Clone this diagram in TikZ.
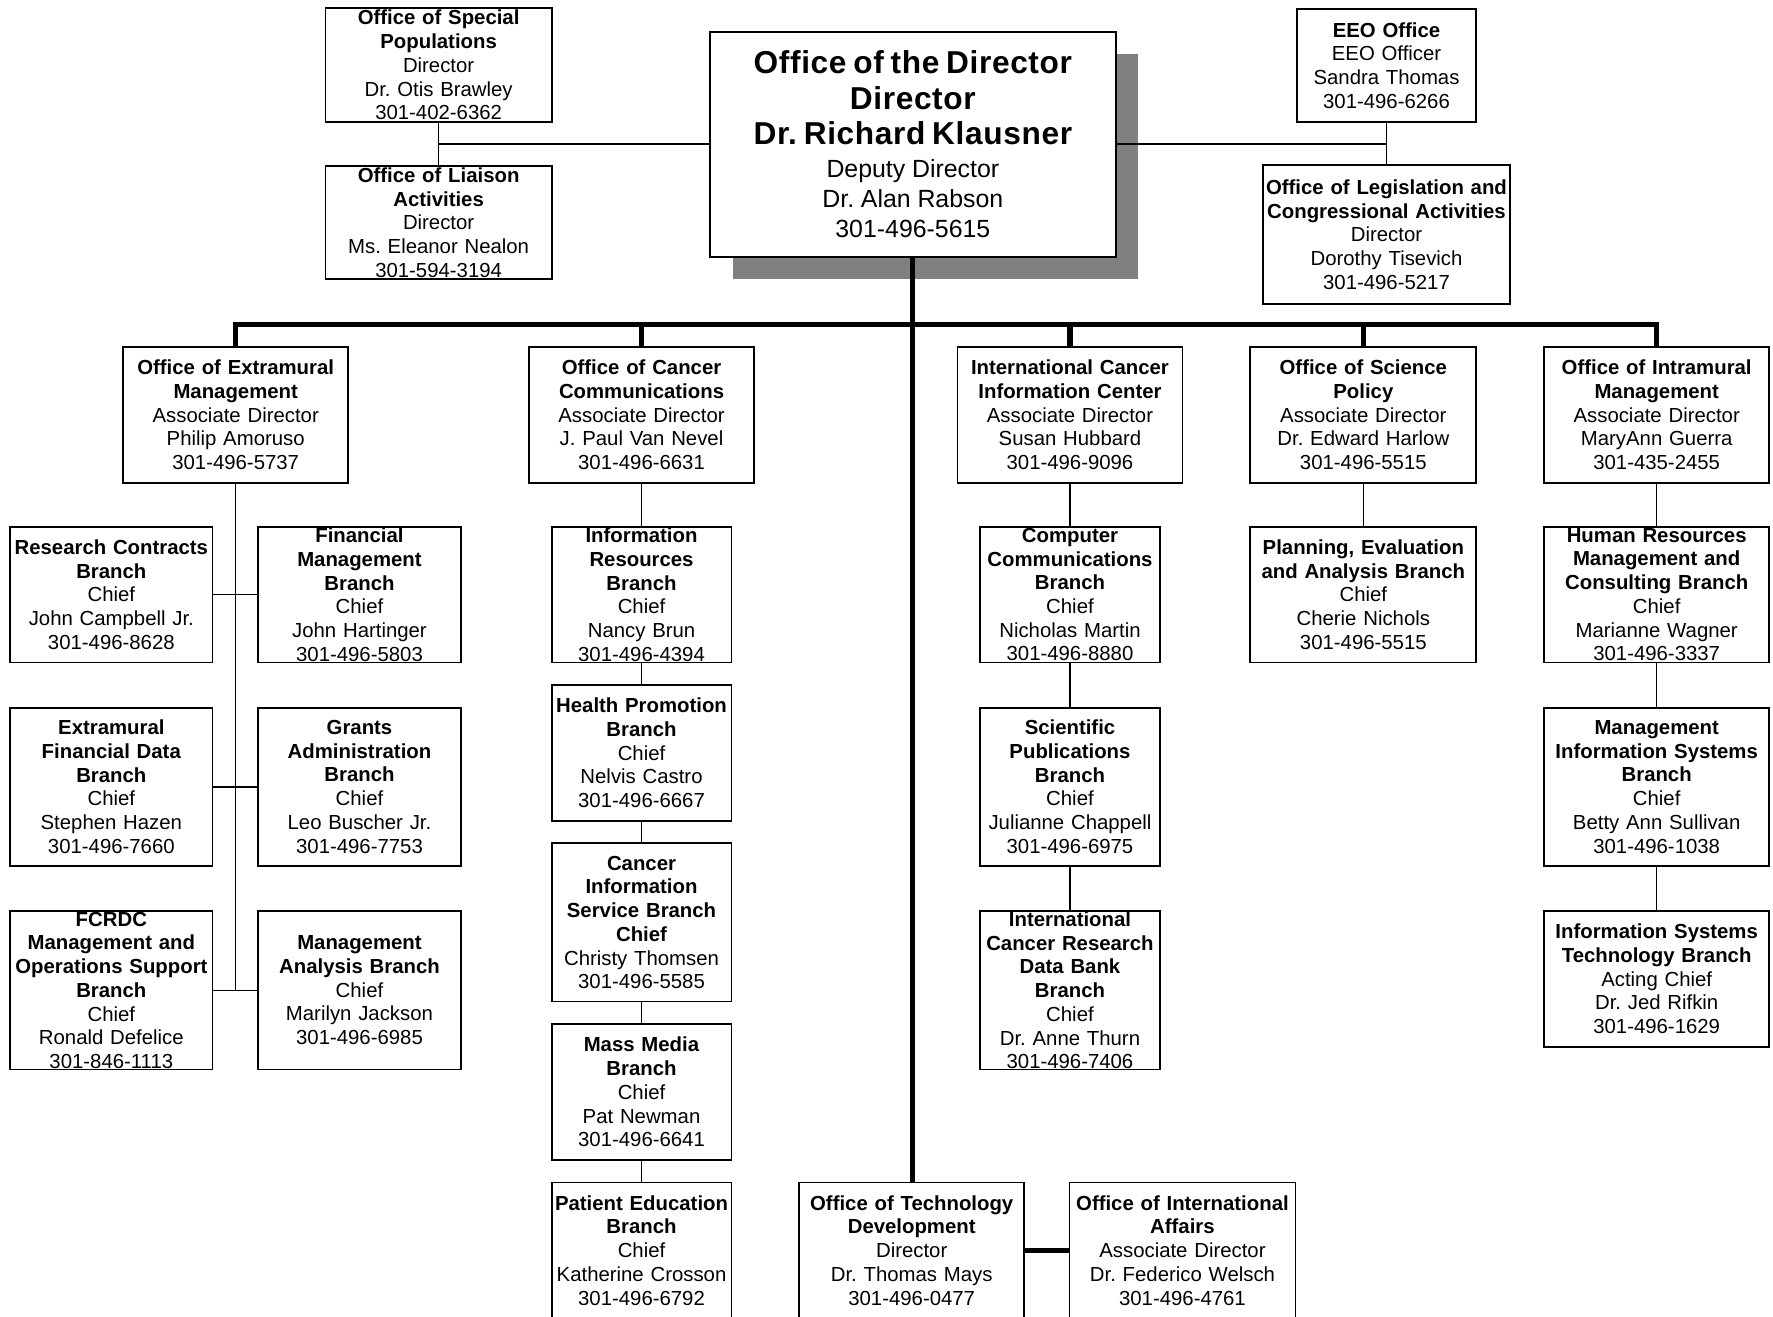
\documentclass[tikz,border=0pt]{standalone}
\usepackage{fontspec}
\setmainfont{Liberation Sans}
\frenchspacing
\newcommand\bfl[1]{\textbf{#1}}
\newcommand\ppar{\par}
\tikzset{
  box/.style={draw, line width=1.6pt, fill=white, inner sep=0pt, rectangle},
  txt/.style={inner sep=0pt, align=center, font=\fontsize{18}{21}\selectfont\frenchspacing},
  conn/.style={line width=1.3pt},
  thk/.style={line width=4.6pt},
}
\newcommand\bx[6]{%
  \pgfmathsetmacro\bw{#4-#2}\pgfmathsetmacro\bh{#5-#3}\pgfmathsetmacro\tw{#4-#2+30}%
  \node[box, minimum width=\bw pt, minimum height=\bh pt,
        label={[txt, text width=\tw pt]center:{#6}}] (#1) at ({(#2+#4)/2},{(#3+#5)/2}) {};}
\begin{document}
\begin{tikzpicture}[x=1pt,y=-1pt]
\useasboundingbox (0,0) rectangle (1568.4,1165);
\clip (0,0) rectangle (1568.4,1165);
% shadow
\fill[black!50] (648,48) rectangle (1007,247);
% top
\bx{osp}{288}{7}{488}{108}{\bfl{Office of Special}\\\bfl{Populations}\\Director\\Dr. Otis Brawley\\301-402-6362}
\bx{ola}{288}{147}{488}{247}{\bfl{Office of Liaison}\\\bfl{Activities}\\Director\\Ms. Eleanor Nealon\\301-594-3194}
\bx{dir}{628}{28}{987}{227}{\fontsize{28}{31.5}\selectfont\bfseries\addfontfeature{LetterSpace=2}Office of the Director\\Director\\Dr. Richard Klausner\\\fontsize{22}{29}\selectfont\mdseries\addfontfeature{LetterSpace=0}Deputy Director\\\fontsize{22}{26.5}\selectfont Dr. Alan Rabson\\301-496-5615\ppar}
\bx{eeo}{1147}{8}{1306}{108}{\bfl{EEO Office}\\EEO Officer\\Sandra Thomas\\301-496-6266}
\bx{olc}{1117}{146}{1336}{269}{\bfl{Office of Legislation and}\\\bfl{Congressional Activities}\\Director\\Dorothy Tisevich\\301-496-5217}
% level 2
\bx{oem}{109}{307}{308}{427}{\bfl{Office of Extramural}\\\bfl{Management}\\Associate Director\\Philip Amoruso\\301-496-5737}
\bx{occ}{468}{307}{667}{427}{\bfl{Office of Cancer}\\\bfl{Communications}\\Associate Director\\J. Paul Van Nevel\\301-496-6631}
\bx{icic}{847}{307}{1046}{427}{\bfl{International Cancer}\\\bfl{Information Center}\\Associate Director\\Susan Hubbard\\301-496-9096}
\bx{osc}{1106}{307}{1306}{427}{\bfl{Office of Science}\\\bfl{Policy}\\Associate Director\\Dr. Edward Harlow\\301-496-5515}
\bx{oim}{1366}{307}{1565}{427}{\bfl{Office of Intramural}\\\bfl{Management}\\Associate Director\\MaryAnn Guerra\\301-435-2455}
% extramural
\bx{rcb}{9}{466}{188}{586}{\bfl{Research Contracts}\\\bfl{Branch}\\Chief\\John Campbell Jr.\\301-496-8628}
\bx{fmb}{228}{466}{408}{586}{\bfl{Financial}\\\bfl{Management}\\\bfl{Branch}\\Chief\\John Hartinger\\301-496-5803}
\bx{efd}{9}{626}{188}{766}{\bfl{Extramural}\\\bfl{Financial Data}\\\bfl{Branch}\\Chief\\Stephen Hazen\\301-496-7660}
\bx{gab}{228}{626}{408}{766}{\bfl{Grants}\\\bfl{Administration}\\\bfl{Branch}\\Chief\\Leo Buscher Jr.\\301-496-7753}
\bx{fcr}{9}{806}{188}{946}{\bfl{FCRDC}\\\bfl{Management and}\\\bfl{Operations Support}\\\bfl{Branch}\\Chief\\Ronald Defelice\\301-846-1113}
\bx{mab}{228}{806}{408}{946}{\bfl{Management}\\\bfl{Analysis Branch}\\Chief\\Marilyn Jackson\\301-496-6985}
% cancer communications
\bx{irb}{488}{466}{647}{586}{\bfl{Information}\\\bfl{Resources}\\\bfl{Branch}\\Chief\\Nancy Brun\\301-496-4394}
\bx{hpb}{488}{606}{647}{726}{\bfl{Health Promotion}\\\bfl{Branch}\\Chief\\Nelvis Castro\\301-496-6667}
\bx{cis}{488}{746}{647}{886}{\bfl{Cancer}\\\bfl{Information}\\\bfl{Service Branch}\\\bfl{Chief}\\Christy Thomsen\\301-496-5585}
\bx{mmb}{488}{906}{647}{1026}{\bfl{Mass Media}\\\bfl{Branch}\\Chief\\Pat Newman\\301-496-6641}
\bx{peb}{488}{1046}{647}{1166}{\bfl{Patient Education}\\\bfl{Branch}\\Chief\\Katherine Crosson\\301-496-6792}
% international cancer information center
\bx{ccb}{867}{466}{1026}{586}{\bfl{Computer}\\\bfl{Communications}\\\bfl{Branch}\\Chief\\Nicholas Martin\\301-496-8880}
\bx{spb}{867}{626}{1026}{766}{\bfl{Scientific}\\\bfl{Publications}\\\bfl{Branch}\\Chief\\Julianne Chappell\\301-496-6975}
\bx{icr}{867}{806}{1026}{946}{\bfl{International}\\\bfl{Cancer Research}\\\bfl{Data Bank}\\\bfl{Branch}\\Chief\\Dr. Anne Thurn\\301-496-7406}
% science policy
\bx{pea}{1106}{466}{1306}{586}{\bfl{Planning, Evaluation}\\\bfl{and Analysis Branch}\\Chief\\Cherie Nichols\\301-496-5515}
% intramural
\bx{hrm}{1366}{466}{1565}{586}{\bfl{Human Resources}\\\bfl{Management and}\\\bfl{Consulting Branch}\\Chief\\Marianne Wagner\\301-496-3337}
\bx{mis}{1366}{626}{1565}{766}{\bfl{Management}\\\bfl{Information Systems}\\\bfl{Branch}\\Chief\\Betty Ann Sullivan\\301-496-1038}
\bx{ist}{1366}{806}{1565}{926}{\bfl{Information Systems}\\\bfl{Technology Branch}\\Acting Chief\\Dr. Jed Rifkin\\301-496-1629}
% bottom
\bx{otd}{707}{1046}{906}{1166}{\bfl{Office of Technology}\\\bfl{Development}\\Director\\Dr. Thomas Mays\\301-496-0477}
\bx{oia}{946}{1046}{1146}{1166}{\bfl{Office of International}\\\bfl{Affairs}\\Associate Director\\Dr. Federico Welsch\\301-496-4761}
% connectors top
\draw[conn] (osp.south) -- (ola.north);
\draw[conn] (dir.west) -- (dir.west -| osp.south);
\draw[conn] (dir.east) -- (dir.east -| eeo.south);
\draw[conn] (eeo.south) -- (olc.north);
% main spine and bus
\coordinate (bus) at (0,287);
\draw[thk] (dir.south) -- (dir.south |- otd.north);
\draw[thk] (oem.north) -- (oem.north |- bus) -- (oim.north |- bus) -- (oim.north);
\draw[thk] (occ.north) -- (occ.north |- bus);
\draw[thk] (icic.north) -- (icic.north |- bus);
\draw[thk] (osc.north) -- (osc.north |- bus);
\draw[thk] (otd.east) -- (oia.west);
% extramural
\draw[conn] (oem.south) -- (oem.south |- fcr.east);
\draw[conn] (rcb.east) -- (fmb.west);
\draw[conn] (efd.east) -- (gab.west);
\draw[conn] (fcr.east) -- (mab.west);
% chains
\draw[conn] (occ.south) -- (irb.north);
\draw[conn] (irb.south) -- (hpb.north);
\draw[conn] (hpb.south) -- (cis.north);
\draw[conn] (cis.south) -- (mmb.north);
\draw[conn] (mmb.south) -- (peb.north);
\draw[conn] (icic.south) -- (ccb.north);
\draw[conn] (ccb.south) -- (spb.north);
\draw[conn] (spb.south) -- (icr.north);
\draw[conn] (osc.south) -- (pea.north);
\draw[conn] (oim.south) -- (hrm.north);
\draw[conn] (hrm.south) -- (mis.north);
\draw[conn] (mis.south) -- (ist.north);
\end{tikzpicture}
\end{document}
